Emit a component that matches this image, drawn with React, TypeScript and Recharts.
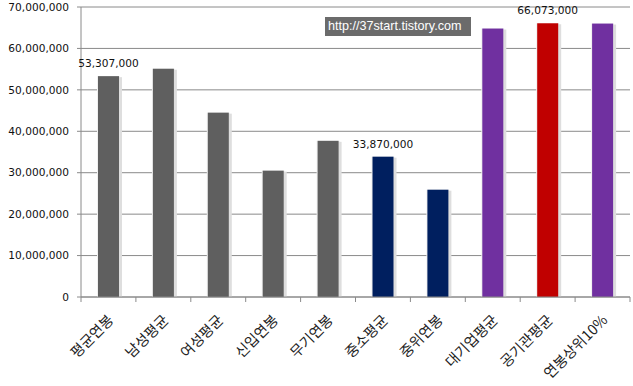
import { BarChart, Bar, XAxis, YAxis, CartesianGrid, Cell, LabelList } from "recharts";

// categories (x axis)
const categories = [
  "평균연봉",
  "남성평균",
  "여성평균",
  "신입연봉",
  "무기연봉",
  "중소평균",
  "중위연봉",
  "대기업평균",
  "공기관평균",
  "연봉상위10%",
];

// annual salary in KRW
const salaries = [
  53307000, 55100000, 44500000, 30500000, 37700000,
  33870000, 25900000, 64800000, 66073000, 66000000,
];

// only a few bars carry a printed value
const valueLabels = [
  "53,307,000", "", "", "", "", "33,870,000", "", "", "66,073,000", "",
];

const barColors = [
  "#5f5f5f", "#5f5f5f", "#5f5f5f", "#5f5f5f", "#5f5f5f",
  "#001f5f", "#001f5f", "#7030a0", "#c00000", "#7030a0",
];

const yTicks = [0, 10000000, 20000000, 30000000, 40000000, 50000000, 60000000, 70000000];

const data = categories.map((name, i) => ({
  name,
  value: salaries[i],
  label: valueLabels[i],
}));

const W = 633;
const H = 386;
const Y_AXIS_W = 81;
const RIGHT = 3;
const STEP = (W - Y_AXIS_W - RIGHT) / categories.length;
const GRID = "#8a8a8a";

const fmt = (v: number) => v.toLocaleString("en-US");

function CategoryTick(props: any) {
  const { x, y, payload, index } = props;
  const left = x - STEP / 2;
  const ax = x + 6;
  const ay = y + 24;
  return (
    <g>
      <line x1={left} y1={y} x2={left} y2={y + 5} stroke={GRID} />
      {index === categories.length - 1 && (
        <line x1={x + STEP / 2} y1={y} x2={x + STEP / 2} y2={y + 5} stroke={GRID} />
      )}
      <text
        x={ax}
        y={ay}
        textAnchor="end"
        transform={`rotate(-45, ${ax}, ${ay})`}
        fontSize={14.5}
        fill="#222"
        fontFamily="'Noto Sans CJK KR', sans-serif"
      >
        {payload.value}
      </text>
    </g>
  );
}

function ShadowBar(props: any) {
  const { x, y, width, height, fill } = props;
  if (!height) return null;
  return (
    <g>
      <rect x={x - 1} y={y} width={width + 2} height={height} fill="#f0f0f0" />
      <rect x={x + 1} y={y + 1} width={width + 2} height={height - 1} fill="#dedede" />
      <rect x={x} y={y} width={width} height={height} fill={fill} />
    </g>
  );
}

export default function App() {
  return (
    <div style={{ position: "absolute", left: 0, top: 0, width: W, height: H, background: "#fff" }}>
      <BarChart
        width={W}
        height={H}
        data={data}
        margin={{ top: 7, right: RIGHT, left: 0, bottom: 0 }}
        barSize={21}
      >
        <CartesianGrid vertical={false} stroke={GRID} />
        <XAxis
          dataKey="name"
          height={89}
          interval={0}
          tickSize={0}
          tickMargin={0}
          stroke={GRID}
          tick={<CategoryTick />}
        />
        <YAxis
          width={Y_AXIS_W}
          domain={[0, 70000000]}
          ticks={yTicks}
          tickFormatter={fmt}
          tickSize={4}
          tickMargin={8}
          stroke={GRID}
          tick={{ fill: "#111", fontSize: 10.6, fontFamily: "'DejaVu Sans', sans-serif" }}
        />
        <Bar dataKey="value" isAnimationActive={false} shape={<ShadowBar />}>
          {data.map((d, i) => (
            <Cell key={d.name} fill={barColors[i]} />
          ))}
          <LabelList
            dataKey="label"
            position="top"
            offset={9}
            fill="#111"
            fontSize={10.6}
            fontFamily="'DejaVu Sans', sans-serif"
          />
        </Bar>
      </BarChart>
      <div
        style={{
          position: "absolute",
          left: 325,
          top: 17,
          width: 146,
          height: 19,
          background: "#6b6b6b",
          color: "#fff",
          fontFamily: "'Liberation Sans', Arial, sans-serif",
          fontSize: 12.6,
          lineHeight: "19px",
          paddingLeft: 3,
          boxSizing: "border-box",
        }}
      >
        http://37start.tistory.com
      </div>
    </div>
  );
}
